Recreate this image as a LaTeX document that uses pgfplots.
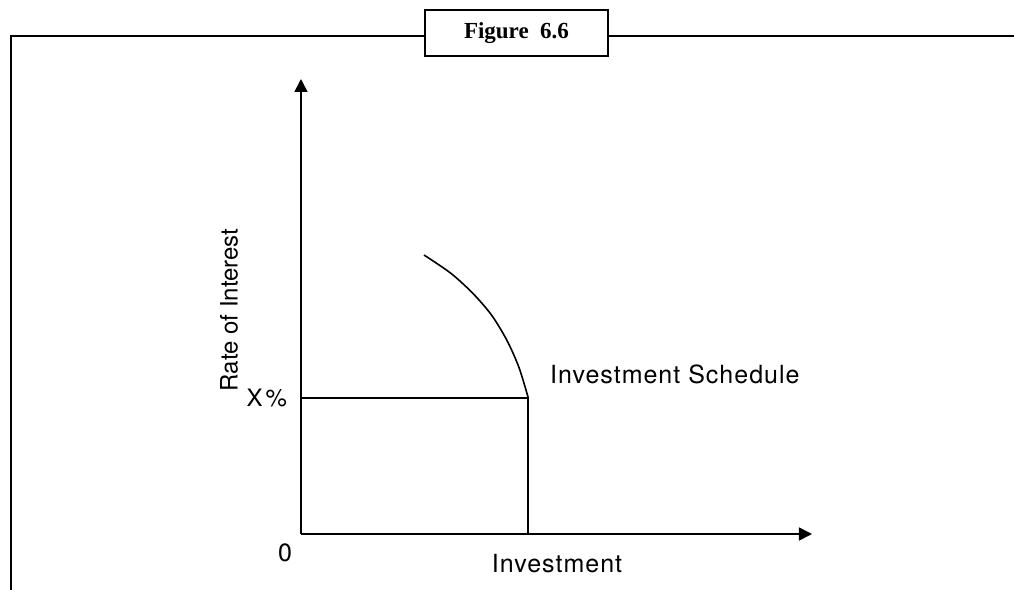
\documentclass[border=0pt]{standalone}
\usepackage{pgfplots}
\pgfplotsset{compat=1.18}
\usetikzlibrary{arrows.meta}
\usepackage{fontspec}
\setmainfont{TeX Gyre Heros}[LetterSpace=4]
\newfontfamily\plainsans{TeX Gyre Heros}
\newfontfamily\titlefont{Liberation Serif}

\begin{document}
\begin{tikzpicture}
  % units: 1 data unit = 1 px of the reference, origin at the axes' corner
  \begin{axis}[
      scale only axis,
      width=255.5pt, height=227.5pt,
      xmin=0, xmax=511,
      ymin=0, ymax=455,
      axis lines=left,
      axis line style={line width=0.8pt, -{Triangle[length=6.5pt,width=6.5pt]}},
      xtick=\empty, ytick=\empty,
      clip=false,
      font=\fontsize{12.5}{15}\selectfont,
      every node/.append style={inner sep=0pt},
    ]
    % investment schedule
    \addplot[line width=0.8pt, smooth, mark=none] coordinates {
      (123,279) (149.5,261) (171.5,241) (190.5,219)
      (206,193.5) (218,166.5) (227,137)
    };
    % X% guide lines
    \addplot[line width=0.8pt, mark=none] coordinates {
      (0,136) (227,136) (227,0)
    };
    \node[anchor=west] at (axis cs:242,160) {Investment Schedule};
    \node at (axis cs:256,-30) {Investment};
    \node at (axis cs:-16,-19) {0};
    \node[anchor=east, font=\plainsans\fontsize{12}{14}\selectfont] at (axis cs:-7,136) {X\kern1.5pt\%};
    \node[rotate=90, font=\plainsans\fontsize{12}{14}\selectfont] at (axis cs:-72,224) {Rate of Interest};
    % outer frame with title box
    \draw[line width=1pt] (axis cs:-290,-56) -- (axis cs:-290,498) -- (axis cs:124,498);
    \draw[line width=1pt] (axis cs:307,498) -- (axis cs:713,498);
    \draw[line width=1pt] (axis cs:124,478) rectangle (axis cs:307,524);
    \node[font=\titlefont\bfseries\fontsize{11.5}{13}\selectfont] at (axis cs:215.5,501) {Figure~~6.6};
    \coordinate (bl) at (axis cs:-301,-56);
    \coordinate (tr) at (axis cs:713,534);
  \end{axis}
  \pgfresetboundingbox
  \path (bl) rectangle (tr);
\end{tikzpicture}
\end{document}
